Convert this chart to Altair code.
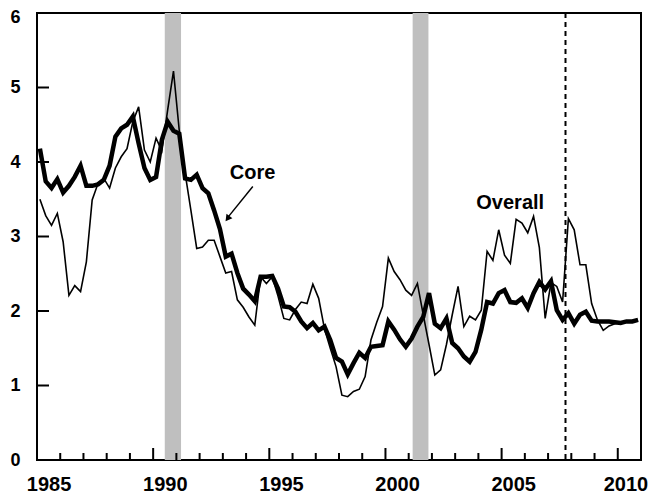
import altair as alt
import pandas as pd

FONT = "Liberation Sans, Arial, sans-serif"
FS = 20

start_year = 1985
core = [4.18, 3.74, 3.65, 3.77, 3.59, 3.68, 3.80, 3.95, 3.68, 3.68,
        3.70, 3.76, 3.95, 4.34, 4.45, 4.50, 4.61, 4.25, 3.92, 3.76,
        3.80, 4.30, 4.54, 4.42, 4.38, 3.78, 3.76, 3.83, 3.65, 3.58,
        3.35, 3.10, 2.73, 2.77, 2.51, 2.30, 2.22, 2.13, 2.46, 2.46,
        2.47, 2.30, 2.06, 2.05, 1.99, 1.86, 1.77, 1.84, 1.74, 1.79,
        1.61, 1.37, 1.32, 1.15, 1.30, 1.44, 1.37, 1.52, 1.53, 1.54,
        1.86, 1.75, 1.62, 1.52, 1.63, 1.79, 1.92, 2.24, 1.83, 1.77,
        1.90, 1.57, 1.50, 1.39, 1.32, 1.45, 1.75, 2.12, 2.10, 2.24,
        2.28, 2.12, 2.11, 2.17, 2.04, 2.24, 2.39, 2.29, 2.40, 2.01,
        1.88, 1.97, 1.83, 1.95, 1.99, 1.87, 1.86, 1.86, 1.86, 1.85,
        1.84, 1.86, 1.86, 1.88]
overall = [3.50, 3.28, 3.15, 3.31, 2.93, 2.21, 2.34, 2.26, 2.66, 3.49,
           3.71, 3.78, 3.65, 3.92, 4.07, 4.18, 4.54, 4.74, 4.16, 4.00,
           4.32, 4.15, 4.70, 5.22, 4.42, 3.85, 3.35, 2.84, 2.86, 2.95,
           2.95, 2.73, 2.51, 2.53, 2.15, 2.05, 1.92, 1.81, 2.46, 2.37,
           2.46, 2.20, 1.90, 1.88, 2.02, 2.12, 2.10, 2.36, 2.17, 1.76,
           1.50, 1.25, 0.87, 0.85, 0.92, 0.95, 1.12, 1.61, 1.85, 2.06,
           2.71, 2.53, 2.42, 2.28, 2.21, 2.37, 1.95, 1.55, 1.14, 1.21,
           1.55, 1.95, 2.33, 1.79, 1.93, 1.88, 2.01, 2.80, 2.68, 3.09,
           2.75, 2.64, 3.23, 3.18, 3.05, 3.27, 2.85, 1.90, 2.38, 2.33,
           2.12, 3.24, 3.09, 2.62, 2.62, 2.10, 1.88, 1.74, 1.80, 1.83,
           1.84, 1.85, 1.86, 1.87]
quarters = [start_year + (i + 0.5) / 4 for i in range(len(core))]

recess_start = [1990.5, 2001.17]
recess_end = [1991.2, 2001.85]
forecast_line = [2007.75]

label_text = ["Core", "Overall"]
label_x = [1994.28, 2005.37]
label_y = [3.85, 3.45]
arrow_x = [1994.29, 1993.25]
arrow_y = [3.67, 3.27]
arrow_head_x = [1993.2]
arrow_head_y = [3.24]

major_years = [1990, 1995, 2000, 2005, 2010]
minor_years = [y for y in range(1986, 2011) if y not in major_years]
y_ticks = [1, 2, 3, 4, 5]
y_label_values = [0, 1, 2, 3, 4, 5, 6]
x_label_years = [1985, 1990, 1995, 2000, 2005, 2010]

W, H = 604, 447

xs = alt.Scale(domain=[1985, 2011], nice=False, zero=False)
ys = alt.Scale(domain=[0, 6], nice=False, zero=True)

series = pd.DataFrame({"t": quarters, "core": core, "overall": overall})
rec_df = pd.DataFrame({"s": recess_start, "e": recess_end})
fc_df = pd.DataFrame({"t": forecast_line})
lab_df = pd.DataFrame({"text": label_text, "t": label_x, "v": label_y})
arrow_df = pd.DataFrame({"t": arrow_x, "v": arrow_y})
head_df = pd.DataFrame({"t": arrow_head_x, "v": arrow_head_y})
minor_df = pd.DataFrame({"t": minor_years})
major_df = pd.DataFrame({"t": major_years})
ytick_df = pd.DataFrame({"v": y_ticks})

x_axis = alt.Axis(values=[y + 0.5 for y in x_label_years], labelExpr="floor(datum.value)",
                  tickSize=0, domain=False, grid=False, labelFlush=False, labelOverlap=False,
                  labelBaseline="alphabetic", labelPadding=30, labelFont=FONT,
                  labelOffset={"condition": {"test": "datum.value > 2010", "value": -4}, "value": 0},
                  labelFontSize=FS, labelFontWeight="bold", labelColor="black", title=None)
y_axis = alt.Axis(values=y_label_values, format="d", tickSize=0, domain=False, grid=False,
                  labelFlush=False, labelOverlap=False, labelPadding=17, labelFont=FONT,
                  labelOffset={"condition": {"test": "datum.value > 5.5", "value": 4}, "value": 0},
                  labelFontSize=18, labelFontWeight="bold", labelColor="black", title=None)

rec = alt.Chart(rec_df).mark_rect(color="#bfbfbf").encode(
    x=alt.X("s:Q", scale=xs, axis=x_axis), x2="e:Q",
    y=alt.value(0), y2=alt.value(H))

fc = alt.Chart(fc_df).mark_rule(color="black", strokeWidth=2, strokeDash=[5, 4]).encode(
    x=alt.X("t:Q", scale=xs), y=alt.value(0), y2=alt.value(H))

over = alt.Chart(series).mark_line(color="black", strokeWidth=1.6).encode(
    x=alt.X("t:Q", scale=xs), y=alt.Y("overall:Q", scale=ys, axis=y_axis))

cor = alt.Chart(series).mark_line(color="black", strokeWidth=4.5).encode(
    x=alt.X("t:Q", scale=xs), y=alt.Y("core:Q", scale=ys))

minor = alt.Chart(minor_df).mark_rule(color="black", strokeWidth=2).encode(
    x=alt.X("t:Q", scale=xs), y=alt.value(H), y2=alt.value(H - 7))
major = alt.Chart(major_df).mark_rule(color="black", strokeWidth=2).encode(
    x=alt.X("t:Q", scale=xs), y=alt.value(H), y2=alt.value(H - 12))
yt = alt.Chart(ytick_df).mark_rule(color="black", strokeWidth=2).encode(
    y=alt.Y("v:Q", scale=ys), x=alt.value(0), x2=alt.value(12))

labels = alt.Chart(lab_df).mark_text(font=FONT, fontSize=FS, fontWeight="bold",
                                     align="center", baseline="middle", color="black").encode(
    x=alt.X("t:Q", scale=xs), y=alt.Y("v:Q", scale=ys), text="text:N")

arrow = alt.Chart(arrow_df).mark_line(color="black", strokeWidth=1.5).encode(
    x=alt.X("t:Q", scale=xs), y=alt.Y("v:Q", scale=ys))
head = alt.Chart(head_df).mark_point(shape="triangle-up", filled=True, color="black",
                                     size=55, angle=217, opacity=1).encode(
    x=alt.X("t:Q", scale=xs), y=alt.Y("v:Q", scale=ys))

chart = alt.layer(rec, fc, over, cor, minor, major, yt, labels, arrow, head).properties(
    width=W, height=H,
    autosize=alt.AutoSizeParams(type="none"),
    padding={"left": 29, "top": 5, "right": 8, "bottom": 34},
).configure_view(stroke="black", strokeWidth=2)

chart.save("out.html", embed_options={"renderer": "svg", "actions": False})
